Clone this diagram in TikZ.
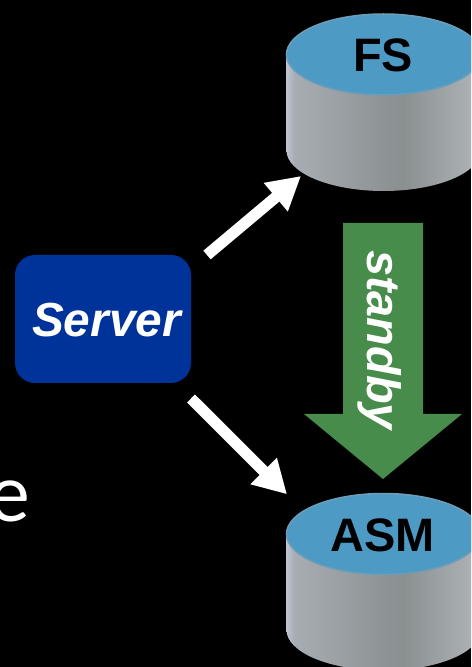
\documentclass[tikz,border=0pt]{standalone}
\usepackage{fontspec}
\setmainfont{Liberation Sans}
\newfontfamily\thinfont{Lato}
\usetikzlibrary{arrows.meta}
\definecolor{disktopblue}{HTML}{4D9BC5}
\definecolor{diskedge}{HTML}{6E9DB8}
\definecolor{serverblue}{HTML}{003399}
\definecolor{standbygreen}{HTML}{478C4B}
\definecolor{sideedge}{HTML}{BDC4D2}
\definecolor{sidelight}{HTML}{A8ADB3}
\definecolor{sidemid}{HTML}{8E9395}
\definecolor{sidedark}{HTML}{8A8F90}
\definecolor{sideright}{HTML}{B0B5BA}
\pgfdeclarehorizontalshading{diskside}{100bp}{color(0bp)=(sideedge);color(25bp)=(sideedge);color(27bp)=(sidelight);color(50bp)=(sidemid);color(55bp)=(sidedark);color(75bp)=(sideright);color(100bp)=(sideright)}
\def\drawdisk(#1,#2){
	\shade[shading=diskside] (#1-97, #2) -- (#1-97, #2-96) arc (180:360:97 and 40.5) -- (#1+97, #2) arc (0:180:97 and 40.5);
	\draw[line width=0.03cm, draw=diskedge, fill=disktopblue] (#1, #2) ellipse (97 and 40.5);
}
\tikzset{
	disklabel/.style={font=\fontsize{26.7}{26.7}\selectfont\bfseries, text=black, inner sep=0},
	linkarrow/.style={line width=0.226cm, color=white, -{Triangle[length=0.66cm, width=0.70cm]}}
}
\begin{document}
\begin{tikzpicture}[x=0.02cm, y=0.02cm]
		%%%%% START %%%%%
		
		\useasboundingbox (0, 0) rectangle (471, 667);
		\clip (0, 0) rectangle (471, 667);
		\fill[black] (0, 0) rectangle (471, 667);
		
		\node[inner sep=0, text=white, font=\fontsize{45}{45}\selectfont\thinfont] (leftover) at (9, 165.5) {e};
		
		\drawdisk(383.5, 612.5);
		\drawdisk(383.5, 133);
		\node[disklabel] (fs) at (383, 611.5) {FS};
		\node[disklabel] (asm) at (382.5, 131.5) {ASM};
		
		\draw[fill=serverblue, draw=none, rounded corners=0.4cm] (15, 284) rectangle (191, 412);
		\node[inner sep=0, text=white, font=\fontsize{27.2}{27.2}\selectfont\bfseries\itshape] (server) at (106.5, 347) {Server};
		
		\coordinate (upstart) at (207, 412);
		\coordinate (uptip) at (301, 491);
		\coordinate (downstart) at (191, 268.5);
		\coordinate (downtip) at (287, 172.7);
		\draw[linkarrow] (upstart) -- (uptip);
		\draw[linkarrow] (downstart) -- (downtip);
		
		\fill[standbygreen] (343, 444) -- (423, 444) -- (423, 253) -- (462, 253) -- (383, 188) -- (304, 253) -- (343, 253) -- cycle;
		\node[rotate=-90, inner sep=0, text=white, font=\fontsize{26.7}{26.7}\selectfont\bfseries\itshape] (standby) at (379.5, 327) {standby};
		
		%%%%% END %%%%%
	\end{tikzpicture}
\end{document}
